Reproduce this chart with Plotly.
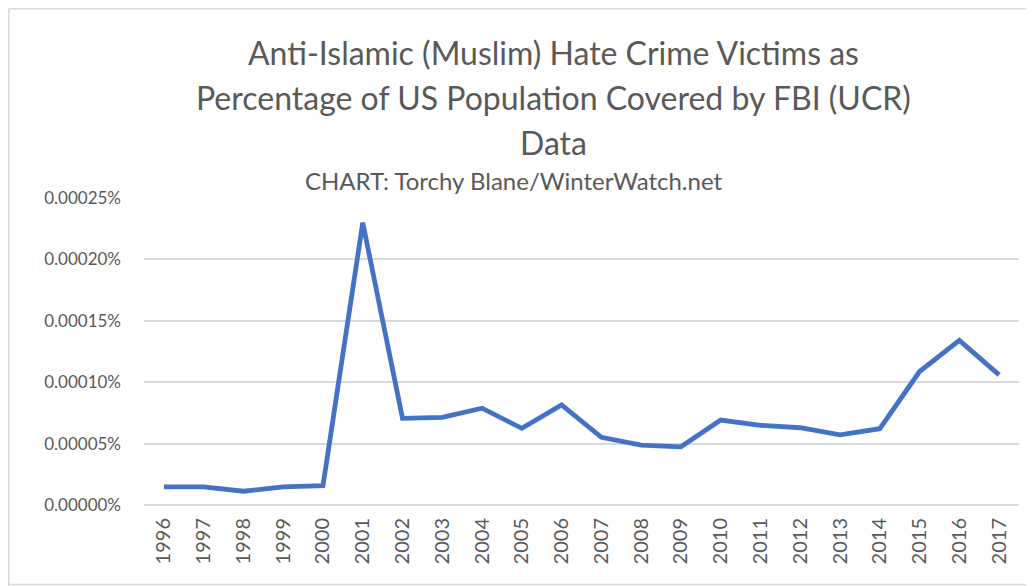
import plotly.graph_objects as go

years = [str(y) for y in range(1996, 2018)]
# values in percent of population covered
values = [0.0000147, 0.0000147, 0.0000112, 0.0000147, 0.0000157, 0.0002299,
          0.0000706, 0.0000714, 0.0000788, 0.0000624, 0.0000815, 0.0000551,
          0.0000488, 0.0000474, 0.0000692, 0.0000649, 0.0000629, 0.0000572,
          0.0000621, 0.0001087, 0.0001340, 0.0001060]
y_ticks = [0, 0.00005, 0.0001, 0.00015, 0.0002, 0.00025]
y_tick_labels = ["0.00000%", "0.00005%", "0.00010%", "0.00015%", "0.00020%", "0.00025%"]
title_lines = ["Anti-Islamic (Muslim) Hate Crime Victims as",
               "Percentage of US Population Covered by FBI (UCR)",
               "Data"]
subtitle = "CHART: Torchy Blane/WinterWatch.net"

OFF = 8  # page body margin offset
W, H = 1034 - OFF, 586 - OFF
ML, MR, MT, MB = 144 - OFF, 15, 198 - OFF, 81
PW, PH = W - ML - MR, H - MT - MB
FONT = "Lato, Open Sans, sans-serif"
GRAY = "#595959"

fig = go.Figure()
fig.add_trace(go.Scatter(x=years, y=values, mode="lines",
                         line=dict(color="#4472C4", width=4.8), hoverinfo="x+y"))

def px(xp):
    return (xp - OFF - ML) / PW

def py(yp):
    return (H - MB - (yp - OFF)) / PH

shapes = []
border = dict(color="#D9D9D9", width=1.5)
shapes.append(dict(type="line", xref="paper", yref="paper", x0=px(8.8), x1=px(8.8), y0=py(8.8), y1=py(586), line=border))
shapes.append(dict(type="line", xref="paper", yref="paper", x0=px(8.8), x1=px(1034), y0=py(8.8), y1=py(8.8), line=border))
shapes.append(dict(type="line", xref="paper", yref="paper", x0=px(8.8), x1=px(1034), y0=py(584.5), y1=py(584.5), line=border))

annotations = []
for i, t in enumerate(title_lines):
    annotations.append(dict(text=t, xref="paper", yref="paper", x=px(553), y=py(52 + i * 45.5),
                            xanchor="center", yanchor="middle", showarrow=False,
                            font=dict(family=FONT, size=32, color=GRAY)))
annotations.append(dict(text=subtitle, xref="paper", yref="paper", x=px(514), y=py(180),
                        xanchor="center", yanchor="middle", showarrow=False,
                        font=dict(family=FONT, size=24, color=GRAY)))

fig.update_layout(
    width=W, height=H,
    margin=dict(l=ML, r=MR, t=MT, b=MB, pad=0),
    paper_bgcolor="white", plot_bgcolor="white",
    showlegend=False,
    shapes=shapes, annotations=annotations,
    xaxis=dict(type="category", tickangle=-90, showgrid=False, showline=False,
               ticks="", tickfont=dict(family=FONT, size=20, color=GRAY),
               ticklabelstandoff=8,
               range=[-0.5, len(years) - 0.5], fixedrange=True),
    yaxis=dict(range=[0, 0.00025], tickvals=y_ticks, ticktext=y_tick_labels,
               showgrid=True, gridcolor="#D9D9D9", gridwidth=1.5, zeroline=True,
               zerolinecolor="#D9D9D9", zerolinewidth=1.5, ticks="",
               ticklabelstandoff=22,
               tickfont=dict(family=FONT, size=17, color=GRAY), fixedrange=True),
)

fig.write_html("out.html")
